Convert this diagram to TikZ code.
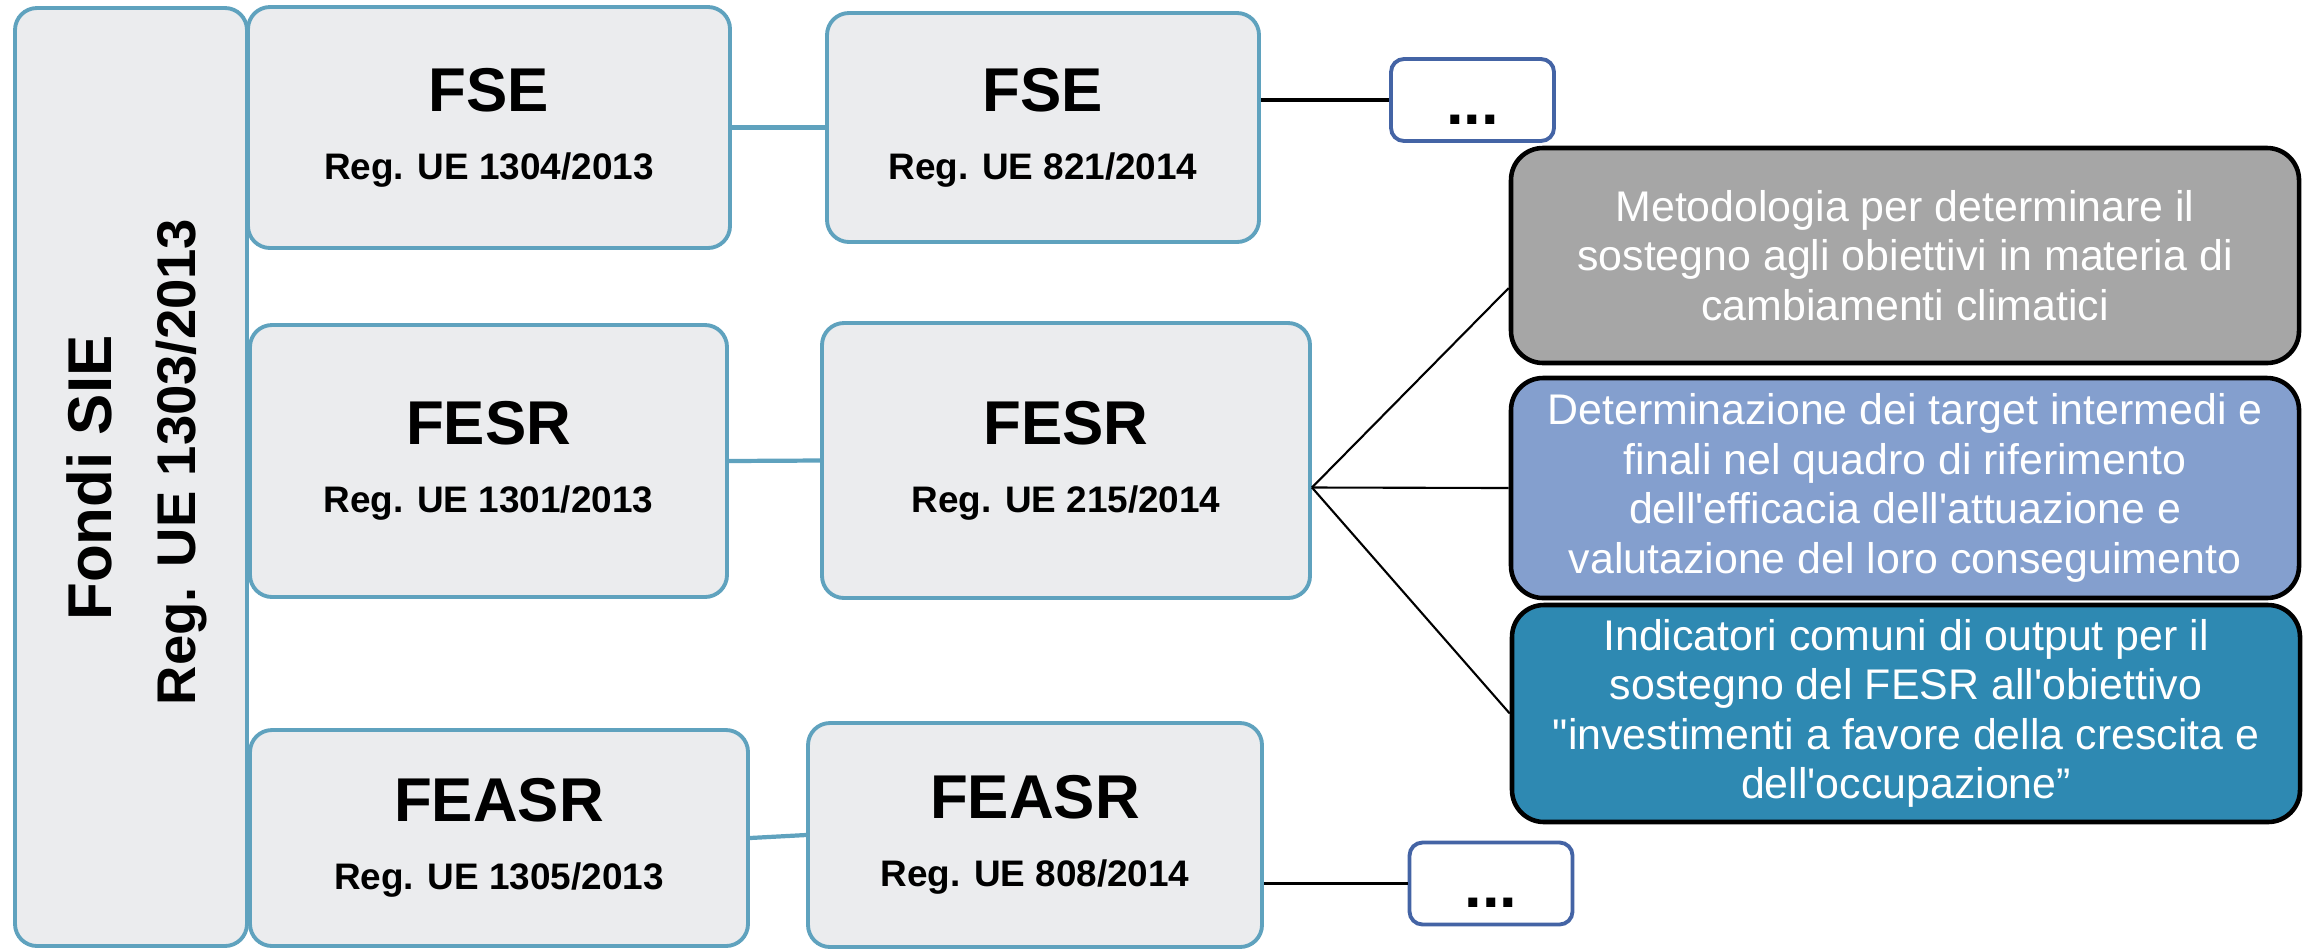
\documentclass[tikz,border=0pt]{standalone}
\usepackage{fontspec}
\setmainfont{Liberation Sans}
\newfontfamily\testo{Liberation Sans}
\usepackage{tikz}
\usetikzlibrary{arrows.meta, positioning, calc}
\definecolor{fondocolor}{RGB}{235, 236, 238}
\definecolor{bordocolor}{RGB}{95, 162, 190}
\definecolor{puntincolor}{RGB}{68, 100, 165}
\definecolor{grigiocolor}{RGB}{166, 166, 166}
\definecolor{blucolor}{RGB}{132, 159, 206}
\definecolor{tealcolor}{RGB}{46, 137, 178}

\begin{document}
\begin{tikzpicture}[
    fondo/.style={draw=bordocolor, fill=fondocolor, line width=1.1pt, rounded corners=0.22cm, inner sep=0pt, align=center, font=\fontsize{10.5}{12}\selectfont\bfseries},
    puntini/.style={draw=puntincolor, fill=white, line width=1.1pt, rounded corners=0.13cm, inner sep=0pt, minimum width=1.63cm, minimum height=0.82cm, text height=0.48cm, text depth=0cm, font=\fontsize{18}{20}\selectfont\bfseries},
    nota/.style={draw=black, line width=1.3pt, rounded corners=0.32cm, inner sep=0pt, minimum width=7.88cm, text=white, align=center, font=\testo\fontsize{12.2}{14.1}\selectfont},
    legame/.style={draw=bordocolor, line width=1.2pt},
    ramo/.style={draw=black, line width=0.6pt},
    coda/.style={draw=black, line width=0.9pt}
]
    \useasboundingbox (0, 0) rectangle (23.1, -9.49);

    % Fondi SIE
    \node[fondo, minimum width=2.32cm, minimum height=9.38cm] (sie) at (1.31, -4.77) {};
    \node[rotate=90, anchor=base, font=\fontsize{17.6}{20}\selectfont\bfseries] (fondi) at (1.11, -4.78) {Fondi SIE};
    \node[rotate=90, anchor=base, font=\fontsize{15.5}{18}\selectfont\bfseries] (regsie) at (1.95, -4.62) {Reg. UE 1303/2013};

    % Regolamenti 2013
    \node[fondo, minimum width=4.82cm, minimum height=2.41cm] (fse1) at (4.89, -1.275) {{\fontsize{17.6}{20}\selectfont FSE}\\[7.4pt]Reg. UE 1304/2013};
    \node[fondo, minimum width=4.77cm, minimum height=2.72cm] (fesr1) at (4.885, -4.61) {{\fontsize{17.6}{20}\selectfont FESR}\\[7.4pt]Reg. UE 1301/2013};
    \node[fondo, minimum width=4.98cm, minimum height=2.16cm] (feasr1) at (4.99, -8.38) {{\fontsize{17.6}{20}\selectfont FEASR}\\[7.4pt]Reg. UE 1305/2013};

    % Regolamenti 2014
    \node[fondo, minimum width=4.32cm, minimum height=2.29cm] (fse2) at (10.43, -1.275) {{\fontsize{17.6}{20}\selectfont FSE}\\[7.4pt]Reg. UE 821/2014};
    \node[fondo, minimum width=4.88cm, minimum height=2.75cm] (fesr2) at (10.66, -4.605) {{\fontsize{17.6}{20}\selectfont FESR}\\[7.4pt]Reg. UE 215/2014};
    \node[fondo, minimum width=4.54cm, minimum height=2.24cm] (feasr2) at (10.35, -8.35) {{\fontsize{17.6}{20}\selectfont FEASR}\\[7.4pt]Reg. UE 808/2014};

    % Puntini
    \node[puntini] (dots1) at (14.725, -1.0) {...};
    \node[puntini] (dots2) at (14.91, -8.835) {...};

    % Contenuti FESR
    \node[nota, fill=grigiocolor, minimum height=2.15cm] (grigio) at (19.05, -2.555) {Metodologia per determinare il\\sostegno agli obiettivi in materia di\\cambiamenti climatici};
    \node[nota, fill=blucolor, minimum height=2.2cm] (blu) at (19.05, -4.88) {Determinazione dei target intermedi e\\finali nel quadro di riferimento\\dell'efficacia dell'attuazione e\\valutazione del loro conseguimento};
    \node[nota, fill=tealcolor, minimum height=2.17cm] (teal) at (19.06, -7.135) {Indicatori comuni di output per il\\sostegno del FESR all'obiettivo\\"investimenti a favore della crescita e\\dell'occupazione”};

    % Connections
    \draw[legame] (fse1.east) -- (fse2.west);
    \draw[legame] (fesr1.east) -- (fesr2.west);
    \draw[legame] (feasr1.east) -- (feasr2.west);

    \draw[coda] (dots1.west -| fse2.east) -- (dots1.west);
    \draw[coda] (dots2.west -| feasr2.east) -- (dots2.west);

    \coordinate (ventaglio) at ([yshift=-0.27cm]fesr2.east);
    \draw[ramo] (ventaglio) -- ([yshift=-0.325cm]grigio.west);
    \draw[ramo] (ventaglio) -- (blu.west);
    \draw[ramo] (ventaglio) -- (teal.west);

\end{tikzpicture}
\end{document}
